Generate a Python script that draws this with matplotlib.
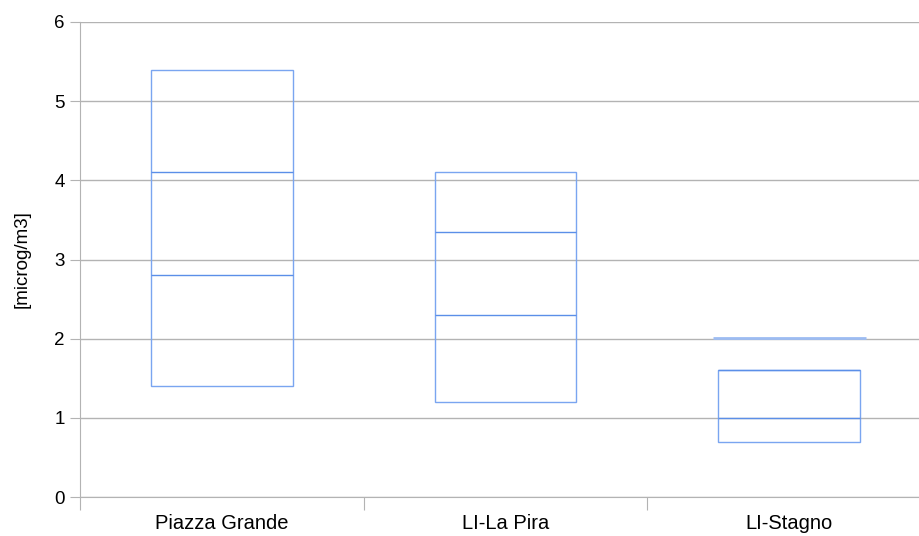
import matplotlib.pyplot as plt

plt.rcParams["font.family"] = ["Liberation Sans", "DejaVu Sans"]

# Categories and box levels
stations = ["Piazza Grande", "LI-La Pira", "LI-Stagno"]
low = [1.4, 1.2, 0.7]
mid_a = [2.8, 2.3, 1.0]
mid_b = [4.1, 3.35, 1.6]
high = [5.4, 4.1, 1.6]
extra = [None, None, 2.01]  # lone line above the Stagno box

edge = "#7aa5f0"
inner = "#5b8fe8"
grid = "#b3b3b3"

fig = plt.figure(figsize=(9.19, 5.36), dpi=100)
ax = fig.add_axes([80 / 919, 39 / 536, 851 / 919, 475 / 536])

x = range(len(stations))
width = 0.5

# boxes: unfilled bars from low to high
ax.bar(x, [h - l for h, l in zip(high, low)], width, bottom=low,
       facecolor="none", edgecolor=edge, linewidth=1.0, zorder=3)
for i in x:
    ax.hlines([mid_a[i], mid_b[i]], i - width / 2, i + width / 2,
              color=inner, linewidth=1.0, zorder=4)
    if extra[i] is not None:
        ax.hlines(extra[i], i - 0.27, i + 0.27, color="#9dbcf2",
                  linewidth=2.0, zorder=4)

ax.set_ylim(0, 6)
ax.set_xlim(-0.5, 2.5)
ax.set_yticks(range(7))
ax.yaxis.grid(True, color=grid, linewidth=1.0)
ax.set_axisbelow(True)

ax.set_xticks([-0.5, 0.5, 1.5, 2.5])
ax.set_xticklabels([])
ax.set_xticks(list(x), minor=True)
ax.set_xticklabels(stations, minor=True, fontsize=14.5)
ax.tick_params(axis="x", which="minor", length=0, pad=12)
ax.tick_params(axis="x", which="major", length=9, color=grid, direction="out")
ax.tick_params(axis="y", length=7, color=grid, labelsize=13.5, pad=4)

for s in ["top", "right"]:
    ax.spines[s].set_visible(False)
ax.spines["left"].set_color(grid)
ax.spines["bottom"].set_color(grid)

ax.set_ylabel("[microg/m3]", fontsize=13.5, labelpad=17)

fig.savefig("out.png", dpi=100)
